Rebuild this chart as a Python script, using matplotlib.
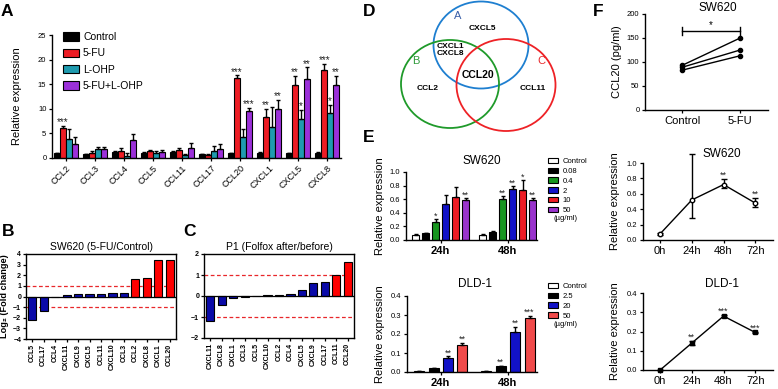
import numpy as np
import matplotlib
matplotlib.use('Agg')
import matplotlib.pyplot as plt
from matplotlib.patches import Patch, Ellipse

plt.rcParams['font.family'] = ['Liberation Sans', 'DejaVu Sans']
plt.rcParams['axes.linewidth'] = 1.0
plt.rcParams['xtick.major.width'] = 0.9
plt.rcParams['ytick.major.width'] = 0.9
plt.rcParams['xtick.major.size'] = 2.5
plt.rcParams['ytick.major.size'] = 2.5

W, H = 778, 389

# ---------------- data ----------------
# A: relative expression in SW620
a_genes = ['CCL2', 'CCL3', 'CCL4', 'CCL5', 'CCL11', 'CCL17', 'CCL20', 'CXCL1', 'CXCL5', 'CXCL8']
a_groups = ['Control', '5-FU', 'L-OHP', '5-FU+L-OHP']
a_control = [1.0, 0.8, 1.2, 1.1, 1.2, 0.8, 1.0, 1.1, 1.0, 1.1]
a_5fu = [6.1, 1.0, 1.4, 1.4, 1.6, 0.6, 16.2, 8.4, 14.8, 17.9]
a_lohp = [3.9, 1.8, 0.5, 1.1, 0.6, 1.4, 4.3, 6.4, 7.9, 9.1]
a_combo = [2.9, 1.8, 3.6, 1.3, 2.1, 1.8, 9.6, 10.0, 16.1, 14.8]
a_control_err = [0.1, 0.1, 0.2, 0.1, 0.2, 0.1, 0.1, 0.1, 0.1, 0.1]
a_5fu_err = [0.4, 0.4, 0.6, 0.3, 0.5, 0.3, 0.6, 1.6, 1.9, 1.3]
a_lohp_err = [2.0, 0.5, 0.6, 0.3, 0.3, 1.0, 1.6, 4.0, 1.9, 1.7]
a_combo_err = [1.4, 0.5, 1.3, 0.3, 0.9, 1.1, 0.6, 1.8, 2.3, 1.9]
# (gene index, group index, label)
a_stars = [(0, 1, '***'), (6, 1, '***'), (6, 3, '***'), (7, 1, '**'), (7, 3, '**'),
           (8, 1, '**'), (8, 2, '*'), (8, 3, '**'), (9, 1, '***'), (9, 2, '*'), (9, 3, '**')]

# B: SW620 log2 fold change
b_genes = ['CCL5', 'CCL17', 'CCL4', 'CXCL11', 'CXCL9', 'CXCL5', 'CCL11', 'CXCL10', 'CCL3',
           'CCL2', 'CXCL8', 'CXCL1', 'CCL20']
b_vals = [-2.2, -1.35, 0.0, 0.12, 0.19, 0.22, 0.28, 0.34, 0.37, 1.65, 1.72, 3.4, 3.44]

# C: P1 log2 fold change
c_genes = ['CXCL11', 'CXCL8', 'CXCL1', 'CCL3', 'CCL5', 'CXCL10', 'CCL2', 'CCL4', 'CXCL5',
           'CXCL9', 'CCL17', 'CCL11', 'CCL20']
c_vals = [-1.2, -0.42, -0.11, -0.06, -0.01, 0.03, 0.05, 0.11, 0.27, 0.6, 0.69, 1.02, 1.64]

# D: Venn sets
venn_only_a = 'CXCL5'
venn_ab = 'CXCL1\nCXCL8'
venn_abc = 'CCL20'
venn_only_b = 'CCL2'
venn_only_c = 'CCL11'

# E: dose response
e_times = ['24h', '48h']
e1_doses = ['Control', '0.08', '0.4', '2', '10', '50']
e1_24 = [0.08, 0.10, 0.27, 0.53, 0.63, 0.59]
e1_24_err = [0.005, 0.005, 0.035, 0.13, 0.15, 0.03]
e1_48 = [0.08, 0.12, 0.60, 0.75, 0.73, 0.59]
e1_48_err = [0.005, 0.01, 0.05, 0.04, 0.15, 0.03]
e1_24_stars = ['', '', '*', '', '', '**']
e1_48_stars = ['', '', '**', '**', '*', '**']

e2_doses = ['Control', '2.5', '20', '50']
e2_24 = [0.003, 0.02, 0.072, 0.14]
e2_24_err = [0.001, 0.003, 0.01, 0.014]
e2_48 = [0.003, 0.03, 0.208, 0.286]
e2_48_err = [0.001, 0.004, 0.03, 0.01]
e2_24_stars = ['', '', '**', '**']
e2_48_stars = ['', '**', '**', '***']

# F: CCL20 secretion and time course
f_cond = ['Control', '5-FU']
f_control = [93, 89, 83]
f_5fu = [150, 125, 113]
f_time = ['0h', '24h', '48h', '72h']
f_sw = [0.08, 0.52, 0.72, 0.48]
f_sw_lo = [0.01, 0.23, 0.05, 0.05]
f_sw_hi = [0.01, 0.60, 0.07, 0.07]
f_sw_stars = ['', '', '**', '**']
f_dld = [0.0, 0.14, 0.28, 0.195]
f_dld_err = [0.002, 0.012, 0.007, 0.005]
f_dld_stars = ['', '**', '***', '***']

# ---------------- helpers ----------------
fig = plt.figure(figsize=(W / 100, H / 100), dpi=100)


def box(l, t, r, b):
    return [l / W, 1 - b / H, (r - l) / W, (b - t) / H]


def prism(ax):
    ax.spines['top'].set_visible(False)
    ax.spines['right'].set_visible(False)
    ax.tick_params(labelsize=5.5, pad=1.5)


def ylab(ax, text, px, l, r, size=8, **kw):
    ax.set_ylabel(text, fontsize=size, **kw)
    ax.yaxis.set_label_coords((px - l) / (r - l), 0.5)


def star(ax, x, y, s, size=7, dy=2.5):
    ax.annotate(s, (x, y), xytext=(0, dy), textcoords='offset points',
                ha='center', va='center', fontsize=size, color='#222222')


def panel(label, x, y):
    fig.text(x / W, 1 - y / H, label, fontsize=12.5, fontweight='bold', ha='left', va='center')


# ---------------- A ----------------
axA = fig.add_axes(box(52, 35, 341, 158))
prism(axA)
a_colors = ['black', '#ED1C24', '#1F9BAF', '#9B30D9']
a_vals = [a_control, a_5fu, a_lohp, a_combo]
a_errs = [a_control_err, a_5fu_err, a_lohp_err, a_combo_err]
xa = np.arange(len(a_genes))
bw = 0.2
for k in range(4):
    v = np.array(a_vals[k])
    e = np.array(a_errs[k])
    axA.bar(xa + (k - 1.5) * bw, v, bw, color=a_colors[k], edgecolor='black', linewidth=0.8,
            yerr=[np.zeros_like(e), e], error_kw=dict(elinewidth=1.0, capsize=1.2, capthick=1.0, ecolor='black'))
for g, k, s in a_stars:
    star(axA, xa[g] + (k - 1.5) * bw, a_vals[k][g] + a_errs[k][g], s)
axA.set_xlim(-0.48, 9.48)
axA.set_ylim(0, 25)
axA.set_yticks([0, 5, 10, 15, 20, 25])
axA.set_xticks(xa)
axA.set_xticklabels(a_genes, rotation=45, ha='right', rotation_mode='anchor', fontsize=6.5)
ylab(axA, 'Relative expression', 22, 52, 341, 8)
handles = [Patch(facecolor=c, edgecolor='black', linewidth=0.8) for c in a_colors]
axA.legend(handles, a_groups, loc='upper left', bbox_to_anchor=(58 / W, 1 - 27 / H),
           bbox_transform=fig.transFigure, frameon=False, fontsize=7.5, handlelength=1.5,
           handleheight=0.9, handletextpad=0.4, labelspacing=0.6, borderpad=0)
panel('A', 1, 11)


# ---------------- B & C ----------------
def fold_panel(rect, genes, vals, title, ylim, yticks):
    ax = fig.add_axes(rect)
    x = np.arange(len(genes))
    cols = ['#FF0000' if v >= 1 else '#0A0AA8' for v in vals]
    ax.bar(x, vals, 0.72, color=cols, edgecolor='black', linewidth=0.8, zorder=2)
    ax.axhline(0, color='black', lw=0.9, zorder=3)
    for yy in (1, -1):
        ax.axhline(yy, color='#E8272A', lw=0.9, ls=(0, (3, 2)), zorder=1)
    ax.set_xlim(-0.55, len(genes) - 0.45)
    ax.set_ylim(*ylim)
    ax.set_yticks(yticks)
    ax.set_xticks(x)
    ax.set_xticklabels(genes, rotation=90, fontsize=5.5, fontweight='bold')
    ax.tick_params(labelsize=5, pad=1.5, length=2)
    for t in ax.get_yticklabels():
        t.set_fontweight('bold')
    ax.set_title(title, fontsize=7.5, pad=3)
    return ax


axB = fold_panel(box(26, 254, 176, 339), b_genes, b_vals, 'SW620 (5-FU/Control)', (-4, 4), range(-4, 5))
ylab(axB, 'Log₂ (Fold change)', 9, 26, 176, 6.6, fontweight='bold')
panel('B', 2, 231)
axC = fold_panel(box(204, 254, 354, 338), c_genes, c_vals, 'P1 (Folfox after/before)', (-2, 2), range(-2, 3))
panel('C', 183, 231)

# ---------------- D ----------------
axD = fig.add_axes(box(360, 0, 600, 135))
axD.set_xlim(360, 600)
axD.set_ylim(135, 0)
axD.axis('off')
axD.add_patch(Ellipse((481, 45), 95, 87, fill=False, ec='#1E7FD0', lw=1.3))
axD.add_patch(Ellipse((450, 84), 98, 88, fill=False, ec='#1F9A2A', lw=1.3))
axD.add_patch(Ellipse((506, 85), 99, 92, fill=False, ec='#EE2226', lw=1.3))
axD.text(458, 16, 'A', color='#3A5FA8', fontsize=8, ha='center', va='center')
axD.text(416, 61, 'B', color='#2E9A3A', fontsize=8, ha='center', va='center')
axD.text(541, 61, 'C', color='#E8272A', fontsize=8, ha='center', va='center')
axD.text(482, 28, venn_only_a, fontsize=6, fontweight='bold', ha='center', va='center')
axD.text(450, 50, venn_ab, fontsize=6, fontweight='bold', ha='center', va='center', linespacing=1.1)
axD.text(478, 75, venn_abc, fontsize=7.5, fontweight='bold', ha='center', va='center')
axD.text(428, 89, venn_only_b, fontsize=6, fontweight='bold', ha='center', va='center')
axD.text(533, 89, venn_only_c, fontsize=6, fontweight='bold', ha='center', va='center')
panel('D', 363, 12)


# ---------------- E ----------------
def dose_panel(rect, doses, cols, v24, e24, v48, e48, s24, s48, off, xlim, ylim, yticks,
               title, title_x, leg_xy, bw):
    ax = fig.add_axes(rect)
    prism(ax)
    n = len(doses)
    for gi, (v, e, s) in enumerate([(v24, e24, s24), (v48, e48, s48)]):
        x = np.arange(n) + gi * off
        e = np.array(e)
        ax.bar(x, v, bw, color=cols, edgecolor='black', linewidth=0.8,
               yerr=[np.zeros_like(e), e], error_kw=dict(elinewidth=1.0, capsize=1.2, capthick=1.0, ecolor='black'))
        for xi, vi, ei, si in zip(x, v, e, s):
            if si:
                star(ax, xi, vi + ei, si, size=6.5, dy=2.2)
    ax.set_xlim(*xlim)
    ax.set_ylim(*ylim)
    ax.set_yticks(yticks)
    ax.set_xticks([(n - 1) / 2, (n - 1) / 2 + off])
    ax.set_xticklabels(e_times, fontsize=8, fontweight='bold')
    ax.text(title_x, 1.08, title, transform=ax.get_xaxis_transform(), fontsize=8.5, ha='center', va='bottom')
    handles = [Patch(facecolor=c, edgecolor='black', linewidth=0.8) for c in cols]
    ax.legend(handles, doses, loc='upper left', bbox_to_anchor=(leg_xy[0] / W, 1 - leg_xy[1] / H),
              bbox_transform=fig.transFigure, frameon=False, fontsize=5.5, handlelength=1.3,
              handleheight=0.75, handletextpad=0.6, labelspacing=0.3, borderpad=0)
    return ax


e1_colors = ['white', 'black', '#17961F', '#1212C8', '#EE1C24', '#9933CC']
axE1 = dose_panel(box(406, 172, 537, 240), e1_doses, e1_colors, e1_24, e1_24_err, e1_48, e1_48_err,
                  e1_24_stars, e1_48_stars, 6.7, (-0.95, 12.15), (0, 1.0),
                  [0, 0.2, 0.4, 0.6, 0.8, 1.0], 'SW620', 6.6, (544, 154), 0.7)
axE1.set_yticklabels(['0.0', '0.2', '0.4', '0.6', '0.8', '1.0'])
ylab(axE1, 'Relative expression', 385, 406, 537, 8)
fig.text(553 / W, 1 - 218 / H, '(µg/ml)', fontsize=5.5, va='center')

e2_colors = ['white', 'black', '#1212C8', '#F04A4A']
axE2 = dose_panel(box(407, 296, 537, 372), e2_doses, e2_colors, e2_24, e2_24_err, e2_48, e2_48_err,
                  e2_24_stars, e2_48_stars, 4.68, (-0.85, 8.2), (0, 0.4),
                  [0, 0.1, 0.2, 0.3, 0.4], 'DLD-1', 3.9, (544, 279), 0.7)
axE2.set_yticklabels(['0.0', '0.1', '0.2', '0.3', '0.4'])
ylab(axE2, 'Relative expression', 385, 407, 537, 8)
fig.text(553 / W, 1 - 324 / H, '(µg/ml)', fontsize=5.5, va='center')
panel('E', 363, 137)

# ---------------- F ----------------
axF1 = fig.add_axes(box(645, 14, 768, 110))
prism(axF1)
for c, f in zip(f_control, f_5fu):
    axF1.plot([0, 1], [c, f], color='black', lw=1.0, marker='o', ms=3, mfc='black', mec='black')
axF1.plot([0, 1], [165, 165], color='black', lw=1.0)
axF1.plot([0, 0], [157, 173], color='black', lw=1.0)
axF1.plot([1, 1], [157, 173], color='black', lw=1.0)
axF1.text(0.5, 167, '*', ha='center', va='bottom', fontsize=7)
axF1.set_xlim(-0.64, 1.48)
axF1.set_ylim(0, 200)
axF1.set_yticks([0, 50, 100, 150, 200])
axF1.set_xticks([0, 1])
axF1.set_xticklabels(f_cond, fontsize=8)
fig.text(718 / W, 1 - 8 / H, 'SW620', fontsize=8.5, ha='center', va='center')
ylab(axF1, 'CCL20 (pg/ml)', 622, 645, 768, 8)
panel('F', 593, 12)


def time_panel(rect, l, r, vals, lo, hi, stars, ylim, yticks, ytl, title, marker, mfc):
    ax = fig.add_axes(rect)
    prism(ax)
    x = np.arange(len(f_time))
    ax.errorbar(x, vals, yerr=[lo, hi], color='black', lw=1.0, marker=marker, ms=3.2, mfc=mfc,
                mec='black', mew=1.0, elinewidth=1.0, capsize=2, capthick=1.0, clip_on=False)
    for xi, v, h, s in zip(x, vals, hi, stars):
        if s:
            star(ax, xi, v + h, s, size=6.5, dy=2.5)
    ax.set_xlim(-0.54, 3.56)
    ax.set_ylim(*ylim)
    ax.set_yticks(yticks)
    ax.set_yticklabels(ytl)
    ax.set_xticks(x)
    ax.set_xticklabels(f_time, fontsize=8)
    ax.text(1.95, 1.04, title, transform=ax.get_xaxis_transform(), fontsize=8.5, ha='center', va='bottom')
    ylab(ax, 'Relative expression', 620, l, r, 8)
    return ax


axF2 = time_panel(box(643, 163, 773, 240), 643, 773, f_sw, f_sw_lo, f_sw_hi, f_sw_stars, (0, 1.0),
                  [0, 0.2, 0.4, 0.6, 0.8, 1.0], ['0.0', '0.2', '0.4', '0.6', '0.8', '1.0'], 'SW620', 'o', 'white')
axF3 = time_panel(box(643, 293, 773, 370), 643, 773, f_dld, f_dld_err, f_dld_err, f_dld_stars, (0, 0.4),
                  [0, 0.1, 0.2, 0.3, 0.4], ['0.0', '0.1', '0.2', '0.3', '0.4'], 'DLD-1', 's', 'black')

fig.savefig('out.png', dpi=100)
